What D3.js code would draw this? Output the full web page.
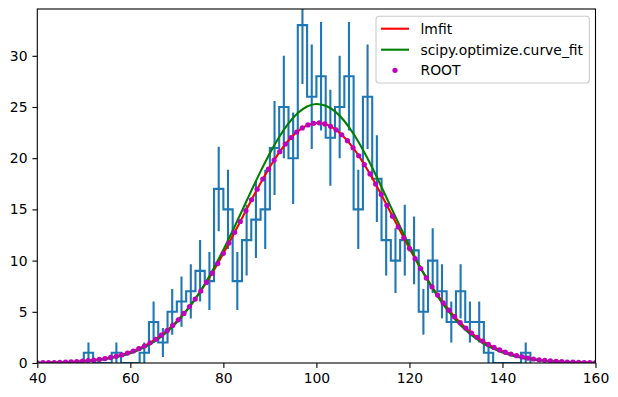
<!DOCTYPE html>
<html>
<head>
<meta charset="utf-8">
<script src="https://cdn.jsdelivr.net/npm/d3@7"></script>
<style>
  body { margin: 0; background: #fff; }
  svg text { font-family: "DejaVu Sans", sans-serif; }
</style>
</head>
<body>
<script type="text/javascript">

// histogram: bin centres (width 2) and counts
var binCenters = [51,53,55,57,59,61,63,65,67,69,71,73,75,77,79,81,83,85,87,89,91,93,95,97,99,
                  101,103,105,107,109,111,113,115,117,119,121,123,125,127,129,131,133,135,137,139,141,143,145];
var counts = [1,0,0,1,0,0,1,4,2,5,6,7,9,8,17,15,8,12,14,15,21,25,20,33,26,
              28,22,25,28,15,26,18,12,10,12,11,5,10,7,4,7,4,4,1,0,0,0,1];

// ROOT fit evaluated on its grid (lmfit gives the same curve)
var rootX = [40.00,41.21,42.42,43.64,44.85,46.06,47.27,48.48,49.70,50.91,52.12,53.33,54.55,55.76,56.97,58.18,59.39,60.61,61.82,63.03,
             64.24,65.45,66.67,67.88,69.09,70.30,71.52,72.73,73.94,75.15,76.36,77.58,78.79,80.00,81.21,82.42,83.64,84.85,86.06,87.27,
             88.48,89.70,90.91,92.12,93.33,94.55,95.76,96.97,98.18,99.39,100.61,101.82,103.03,104.24,105.45,106.67,107.88,109.09,110.30,111.52,
             112.73,113.94,115.15,116.36,117.58,118.79,120.00,121.21,122.42,123.64,124.85,126.06,127.27,128.48,129.70,130.91,132.12,133.33,134.55,135.76,
             136.97,138.18,139.39,140.61,141.82,143.03,144.24,145.45,146.67,147.88,149.09,150.30,151.52,152.73,153.94,155.15,156.36,157.58,158.79,160.00];
var rootY = [0.02,0.03,0.04,0.05,0.07,0.09,0.11,0.14,0.18,0.23,0.28,0.35,0.43,0.54,0.66,0.80,0.97,1.17,1.40,1.66,
             1.97,2.32,2.72,3.16,3.67,4.22,4.84,5.51,6.24,7.03,7.87,8.77,9.71,10.70,11.71,12.76,13.82,14.88,15.94,16.97,
             17.97,18.93,19.82,20.64,21.38,22.02,22.55,22.96,23.25,23.41,23.45,23.35,23.12,22.77,22.29,21.71,21.02,20.24,19.38,18.46,
             17.47,16.45,15.40,14.34,13.28,12.23,11.20,10.19,9.23,8.31,7.44,6.63,5.87,5.16,4.52,3.94,3.41,2.93,2.51,2.14,
             1.81,1.52,1.28,1.06,0.88,0.72,0.59,0.48,0.39,0.31,0.25,0.20,0.16,0.13,0.10,0.08,0.06,0.05,0.04,0.03];

// scipy.optimize.curve_fit curve
var cfX = [40,42,44,46,48,50,52,54,56,58,60,62,64,66,68,70,72,74,76,78,80,82,84,86,88,90,92,94,96,98,100,
           102,104,106,108,110,112,114,116,118,120,122,124,126,128,130,132,134,136,138,140,142,144,146,148,150,152,154,156,158,160];
var cfY = [0.02,0.03,0.04,0.07,0.10,0.15,0.23,0.33,0.48,0.68,0.95,1.31,1.77,2.36,3.09,3.98,5.04,6.29,7.71,9.31,11.06,12.92,14.86,16.81,18.71,20.49,22.07,23.40,24.41,25.05,25.30,
           25.13,24.57,23.63,22.36,20.82,19.08,17.19,15.25,13.31,11.42,9.65,8.02,6.56,5.28,4.18,3.25,2.49,1.88,1.40,1.02,0.73,0.52,0.36,0.25,0.17,0.11,0.07,0.05,0.03,0.02];

var xTicks = [40,60,80,100,120,140,160];
var yTicks = [0,5,10,15,20,25,30];
var legendNames = ["lmfit","scipy.optimize.curve_fit","ROOT"];

var W = 618, H = 397;
var pL = 37.3, pR = 595.5, pT = 9, pB = 363;
var fs = 13.9;

var svg = d3.select("body").append("svg")
    .attr("width", W)
    .attr("height", H);

var x = d3.scaleLinear().domain([40,160]).range([pL,pR]);
var y = d3.scaleLinear().domain([0,34.57]).range([pB,pT]);

svg.append("clipPath").attr("id","plotclip")
   .append("rect")
   .attr("x",pL).attr("y",pT)
   .attr("width",pR-pL).attr("height",pB-pT);

var plot = svg.append("g").attr("clip-path","url(#plotclip)");

// stairs outline
var half = (binCenters[1]-binCenters[0])/2;
var steps = [[binCenters[0]-half, 0]];
binCenters.forEach(function(c,i){
    steps.push([c-half, counts[i]]);
    steps.push([c+half, counts[i]]);
});
steps.push([binCenters[binCenters.length-1]+half, 0]);

var line = d3.line().x(function(d){return x(d[0]);}).y(function(d){return y(d[1]);});

plot.append("path")
    .datum(steps)
    .attr("fill","none")
    .attr("stroke","#1f77b4")
    .attr("stroke-width",2.1)
    .attr("d", line);

// sqrt(N) error bars
plot.selectAll("line.err")
    .data(binCenters.map(function(c,i){return {c:c, n:counts[i]};}).filter(function(d){return d.n>0;}))
    .enter()
    .append("line")
    .attr("class","err")
    .attr("x1",function(d){return x(d.c);})
    .attr("x2",function(d){return x(d.c);})
    .attr("y1",function(d){return y(d.n-Math.sqrt(d.n));})
    .attr("y2",function(d){return y(d.n+Math.sqrt(d.n));})
    .attr("stroke","#1f77b4")
    .attr("stroke-width",2.1);

plot.append("path")
    .datum(rootX.map(function(v,i){return [v, rootY[i]];}))
    .attr("fill","none")
    .attr("stroke","#ff0000")
    .attr("stroke-width",2.1)
    .attr("d", line);

plot.append("path")
    .datum(cfX.map(function(v,i){return [v, cfY[i]];}))
    .attr("fill","none")
    .attr("stroke","#008000")
    .attr("stroke-width",2.1)
    .attr("d", d3.line().curve(d3.curveMonotoneX)
                 .x(function(d){return x(d[0]);}).y(function(d){return y(d[1]);}));

plot.selectAll("circle.root")
    .data(rootX)
    .enter()
    .append("circle")
    .attr("class","root")
    .attr("cx",function(d){return x(d);})
    .attr("cy",function(d,i){return y(rootY[i]);})
    .attr("r",2.6)
    .attr("fill","#bf00bf");

// axes
var xAxis = svg.append("g")
    .attr("transform","translate(0,"+pB+")")
    .call(d3.axisBottom(x).tickValues(xTicks).tickSize(4.9).tickPadding(4.9));
var yAxis = svg.append("g")
    .attr("transform","translate("+pL+",0)")
    .call(d3.axisLeft(y).tickValues(yTicks).tickSize(4.9).tickPadding(4.9));

[xAxis,yAxis].forEach(function(a){
    a.select(".domain").remove();
    a.selectAll("line").attr("stroke","#000").attr("stroke-width",1.1);
    a.selectAll("text").attr("font-size",fs).attr("fill","#000")
     .attr("font-family","DejaVu Sans");
});

svg.append("rect")
   .attr("x",pL).attr("y",pT)
   .attr("width",pR-pL).attr("height",pB-pT)
   .attr("fill","none").attr("stroke","#000").attr("stroke-width",1.1);

// legend
var lg = svg.append("g");
lg.append("rect")
  .attr("x",376).attr("y",16.3)
  .attr("width",213.3).attr("height",66.7)
  .attr("rx",3).attr("ry",3)
  .attr("fill","#fff").attr("fill-opacity",0.8)
  .attr("stroke","#cccccc").attr("stroke-width",1.1);

var rowY = [28.7, 49.7, 70.3];
lg.append("line").attr("x1",381).attr("x2",409).attr("y1",rowY[0]).attr("y2",rowY[0])
  .attr("stroke","#ff0000").attr("stroke-width",2.1);
lg.append("line").attr("x1",381).attr("x2",409).attr("y1",rowY[1]).attr("y2",rowY[1])
  .attr("stroke","#008000").attr("stroke-width",2.1);
lg.append("circle").attr("cx",395).attr("cy",rowY[2]).attr("r",2.6).attr("fill","#bf00bf");

lg.selectAll("text")
  .data(legendNames)
  .enter()
  .append("text")
  .attr("x",420.5)
  .attr("y",function(d,i){return rowY[i];})
  .attr("dy","0.36em")
  .attr("font-size",fs)
  .attr("fill","#000")
  .text(function(d){return d;});

</script>
</body>
</html>
